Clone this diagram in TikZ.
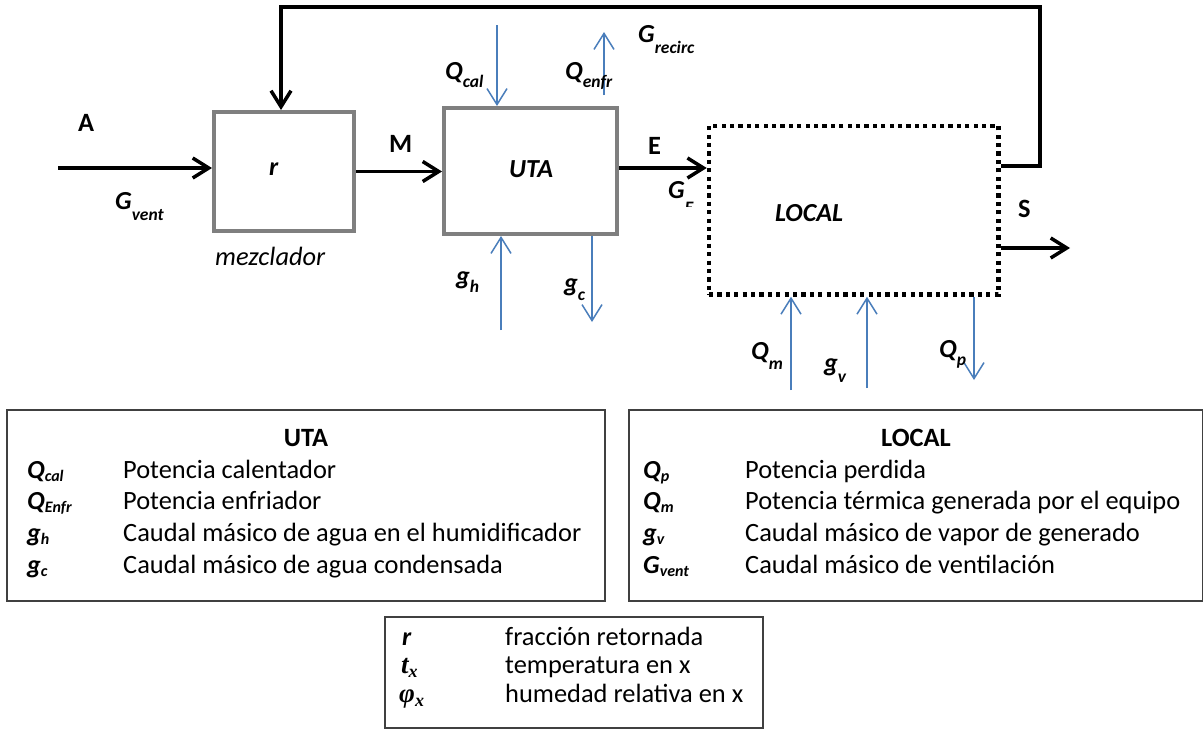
\documentclass[tikz,border=0pt]{standalone}
\usepackage{fontspec}
\setmainfont{Carlito}
\newfontfamily\serifsym{Liberation Serif}
\usetikzlibrary{arrows.meta}
\definecolor{boxgray}{HTML}{7F7F7F}
\definecolor{flowblue}{HTML}{4A7EBB}
\definecolor{legline}{HTML}{404040}
\newcommand\mysub[2][-9pt]{\raisebox{#1}{\fontsize{17.5}{18}\selectfont\bfseries\itshape #2}}
\newcommand\legsub[1]{\raisebox{-3pt}{\fontsize{16}{16}\selectfont\bfseries\itshape #1}}
\newcommand\symsub[1]{\raisebox{-4pt}{\fontsize{18}{18}\selectfont\serifsym\bfseries\itshape #1}}
\begin{document}
\begin{tikzpicture}[x=1pt,y=-1pt,
  txt/.style={font=\fontsize{26.4}{31}\selectfont, inner sep=0pt, anchor=base west},
  lbl/.style={font=\fontsize{26}{31}\selectfont\bfseries\itshape, inner sep=0pt, anchor=base west},
  upl/.style={font=\fontsize{26.4}{31}\selectfont\bfseries, inner sep=0pt, anchor=base west},
  sym/.style={font=\fontsize{27}{31}\selectfont\serifsym\bfseries\itshape, inner sep=0pt, anchor=base west},
  graybox/.style={draw=boxgray, line width=4pt, inner sep=0pt, fill=white},
  dotbox/.style={draw=black, line width=4.5pt, dash pattern=on 4.2pt off 4.2pt, inner sep=0pt},
  flow/.style={line width=3.5pt, -{Straight Barb[length=16pt,width=20pt]}},
  heat/.style={draw=flowblue, line width=1.5pt, -{Straight Barb[length=16pt,width=20pt]}},
  legbox/.style={draw=legline, line width=1.3pt}
]
\useasboundingbox (0,0) rectangle (1204,731);
\fill[white] (0,0) rectangle (1204,731);

% boxes
\node[graybox, minimum width=140pt, minimum height=119pt] (mez) at (284,171.5) {};
\node[graybox, minimum width=173pt, minimum height=126pt] (uta) at (530.5,171) {};
\node[dotbox, minimum width=289.5pt, minimum height=168.5pt] (loc) at (853.75,210.25) {};

% coordinates
\coordinate (ain) at (58,168);
\coordinate (sout) at (1070,248);
\coordinate (rc1) at (1040,166);
\coordinate (rc2) at (1040,7);
\coordinate (rc3) at (281,7);
\coordinate (qcal0) at (497,25);
\coordinate (qenf0) at (604,95);
\coordinate (qenf1) at (604,32);
\coordinate (gh0) at (501,330);
\coordinate (gc1) at (592,322);
\coordinate (qm0) at (791,390);
\coordinate (gv0) at (867,388);
\coordinate (qp1) at (974,380);

% black flows
\draw[flow] (ain) -- (ain -| mez.west);
\draw[flow] (mez.east) -- (mez.east -| uta.west);
\draw[flow] (uta.east |- 0,168) -- (loc.west |- 0,168);
\draw[flow] (loc.east |- sout) -- (sout);
\draw[flow, line join=miter] (loc.east |- rc1) -- (rc1) -- (rc2) -- (rc3) -- (rc3 |- mez.north);

% blue flows
\draw[heat] (qcal0) -- (qcal0 |- uta.north);
\draw[heat] (qenf0) -- (qenf1);
\draw[heat] (gh0) -- (gh0 |- uta.south);
\draw[heat] (gc1 |- uta.south) -- (gc1);
\draw[heat] (qm0) -- (qm0 |- loc.south);
\draw[heat] (gv0) -- (gv0 |- loc.south);
\draw[heat] (qp1 |- loc.south) -- (qp1);

% diagram labels
\node[upl] (lA) at (78,131) {A};
\node[lbl] (lGv) at (115,209) {G\mysub[-11pt]{vent}};
\node[lbl] (lr) at (269,175) {r};
\node[txt, font=\fontsize{26.4}{31}\selectfont\itshape] (lmez) at (215,265) {mezclador};
\node[upl] (lM) at (389,152) {M};
\node[lbl] (luta) at (509,177) {UTA};
\node[lbl] (lqc) at (445,79) {Q\mysub[-8pt]{cal}};
\node[lbl] (lqe) at (565,79) {Q\mysub[-8pt]{enfr}};
\node[lbl] (lgr) at (638,42) {G\mysub[-11pt]{recirc}};
\node[upl] (lE) at (648,154) {E};
\begin{scope}
\clip (655,150) rectangle (704,206);
\node[lbl] (lGE) at (668,198) {G\mysub[-15pt]{E}};
\end{scope}
\node[lbl] (lloc) at (775,221) {LOCAL};
\node[upl] (lS) at (1018,217) {S};
\node[lbl] (lqm) at (751,359) {Q\mysub[-10pt]{m}};
\node[lbl] (lgv) at (824,371) {g\mysub[-11pt]{v}};
\node[lbl] (lqp) at (939,357) {Q\mysub[-8pt]{p}};
\node[lbl] (lgh) at (456,284) {g\mysub[-8pt]{h}};
\node[lbl] (lgc) at (564,291) {g\mysub[-9pt]{c}};

% legend UTA
\draw[legbox] (7,410) rectangle (605,601);
\node[upl, anchor=base] (tuta) at (306,446) {UTA};
\node[lbl] (s1) at (27,478) {Q\legsub{cal}};
\node[txt] (d1) at (123,478) {Potencia calentador};
\node[lbl] (s2) at (27,509) {Q\legsub{Enfr}};
\node[txt] (d2) at (123,509) {Potencia enfriador};
\node[lbl] (s3) at (27,541) {g\legsub{h}};
\node[txt] (d3) at (123,541) {Caudal másico de agua en el humidificador};
\node[lbl] (s4) at (27,573) {g\legsub{c}};
\node[txt] (d4) at (123,573) {Caudal másico de agua condensada};

% legend LOCAL
\draw[legbox] (629,410) rectangle (1202.5,601);
\node[upl, anchor=base] (tloc) at (916,446) {LOCAL};
\node[lbl] (s5) at (643,478) {Q\legsub{p}};
\node[txt] (d5) at (745,478) {Potencia perdida};
\node[lbl] (s6) at (643,509) {Q\legsub{m}};
\node[txt] (d6) at (745,509) {Potencia térmica generada por el equipo};
\node[lbl] (s7) at (643,541) {g\legsub{v}};
\node[txt] (d7) at (745,541) {Caudal másico de vapor de generado};
\node[lbl] (s8) at (643,573) {G\legsub{vent}};
\node[txt] (d8) at (745,573) {Caudal másico de ventilación};

% legend bottom
\draw[legbox] (385,617) rectangle (763,728);
\node[lbl] (s9) at (402,645) {r};
\node[txt] (d9) at (505,645) {fracción retornada};
\node[sym] (s10) at (401,673) {t\symsub{x}};
\node[sym] (s11) at (399,702) {φ\symsub{x}};
\node[txt] (d10) at (505,673) {temperatura en x};
\node[txt] (d11) at (505,702) {humedad relativa en x};
\end{tikzpicture}
\end{document}
